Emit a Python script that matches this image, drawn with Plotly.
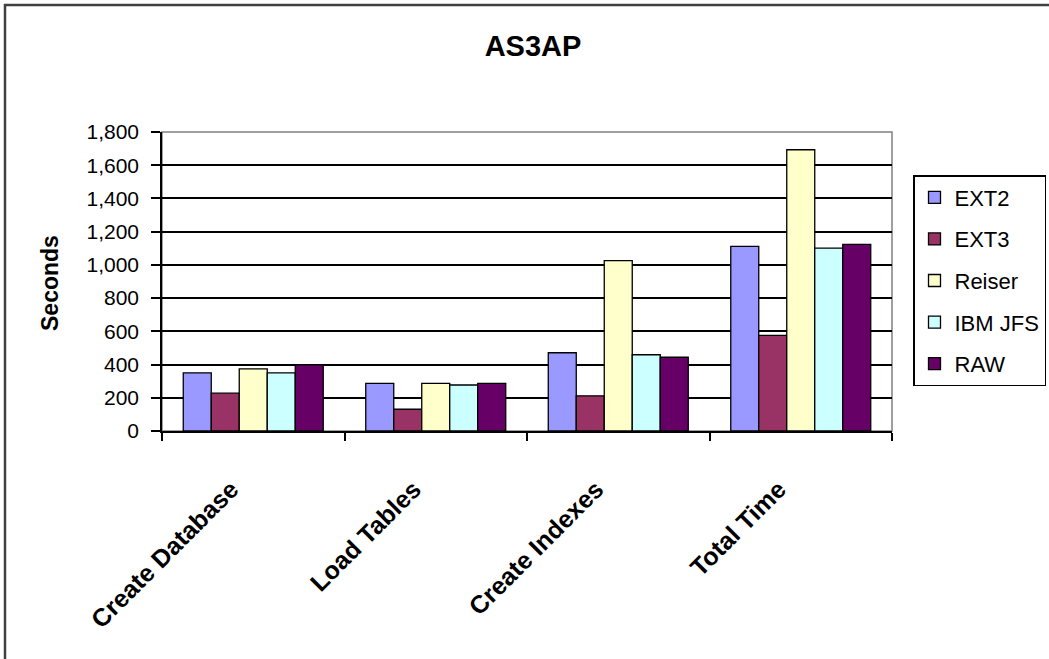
import plotly.graph_objects as go

# AS3AP benchmark timings (seconds) per file system
categories = ["Create Database", "Load Tables", "Create Indexes", "Total Time"]
ext2 = [350, 287, 471, 1111]
ext3 = [228, 131, 212, 576]
reiser = [374, 287, 1026, 1693]
ibm_jfs = [350, 277, 459, 1101]
raw = [398, 287, 444, 1123]

series_names = ["EXT2", "EXT3", "Reiser", "IBM JFS", "RAW"]
series_values = [ext2, ext3, reiser, ibm_jfs, raw]
series_colors = ["#9999FF", "#993366", "#FFFFCC", "#CCFFFF", "#660066"]

FONT = "Arial, 'Liberation Sans', sans-serif"

fig = go.Figure()
for name, vals, color in zip(series_names, series_values, series_colors):
    fig.add_trace(go.Bar(
        name=name,
        x=categories,
        y=vals,
        legendgroup=name,
        marker=dict(color=color, line=dict(color="#000000", width=1.3)),
    ))

W, H = 1049, 659
L, R, T, B = 162, 157, 132, 228
pw, ph = W - L - R, H - T - B


def px_x(x):
    return (x - L) / pw


def px_y(y):
    return (H - B - y) / ph


fig.update_layout(
    width=W, height=H,
    margin=dict(l=L, r=R, t=T, b=B, autoexpand=False),
    paper_bgcolor="white",
    plot_bgcolor="white",
    barmode="group",
    bargap=0.233,
    bargroupgap=0,
    font=dict(family=FONT, color="#000000"),
    title=dict(
        text="<b>AS3AP</b>",
        x=533 / W, xanchor="center",
        y=1 - 46 / H, yanchor="middle",
        font=dict(family=FONT, size=29, color="#000000"),
    ),
    legend=dict(
        x=px_x(913), xanchor="left",
        y=px_y(175), yanchor="top",
        bordercolor="#000000", borderwidth=1.5,
        bgcolor="white",
        font=dict(family=FONT, size=22, color="#000000"),
        tracegroupgap=10,
        itemwidth=30,
        traceorder="grouped",
    ),
    xaxis=dict(
        type="category",
        showline=True, linecolor="#000000", linewidth=1.5,
        ticks="outside", ticklen=8, tickwidth=1.5, tickcolor="#000000",
        tickson="boundaries",
        tickangle=-45,
        tickfont=dict(family=FONT, size=25, color="#000000", weight="bold"),
        ticklabelstandoff=32,
        ticklabelshift=-22,
        showgrid=False,
        zeroline=False,
    ),
    yaxis=dict(
        range=[0, 1800],
        dtick=200,
        tickformat=",d",
        showline=True, linecolor="#000000", linewidth=1.5,
        ticks="outside", ticklen=9, tickwidth=1.5, tickcolor="#000000",
        tickfont=dict(family=FONT, size=21, color="#000000"),
        ticklabelstandoff=8,
        showgrid=True, gridcolor="#000000", gridwidth=1.5,
        zeroline=False,
    ),
    annotations=[
        dict(
            text="<b>Seconds</b>",
            xref="paper", yref="paper",
            x=px_x(50), y=px_y(283),
            xanchor="center", yanchor="middle",
            textangle=-90, showarrow=False,
            font=dict(family=FONT, size=23, color="#000000"),
        )
    ],
    shapes=[
        # plot area frame
        dict(type="rect", xref="paper", yref="paper", x0=0, x1=1, y0=0, y1=1,
             line=dict(color="#808080", width=1.5), layer="below"),
        # chart frame: top and left edges
        dict(type="line", xref="paper", yref="paper",
             x0=px_x(4), x1=px_x(W + 10), y0=px_y(5), y1=px_y(5),
             line=dict(color="#404040", width=2.5)),
        dict(type="line", xref="paper", yref="paper",
             x0=px_x(5), x1=px_x(5), y0=px_y(4), y1=px_y(H + 10),
             line=dict(color="#404040", width=2.5)),
    ],
)

fig.write_html("out.html")
